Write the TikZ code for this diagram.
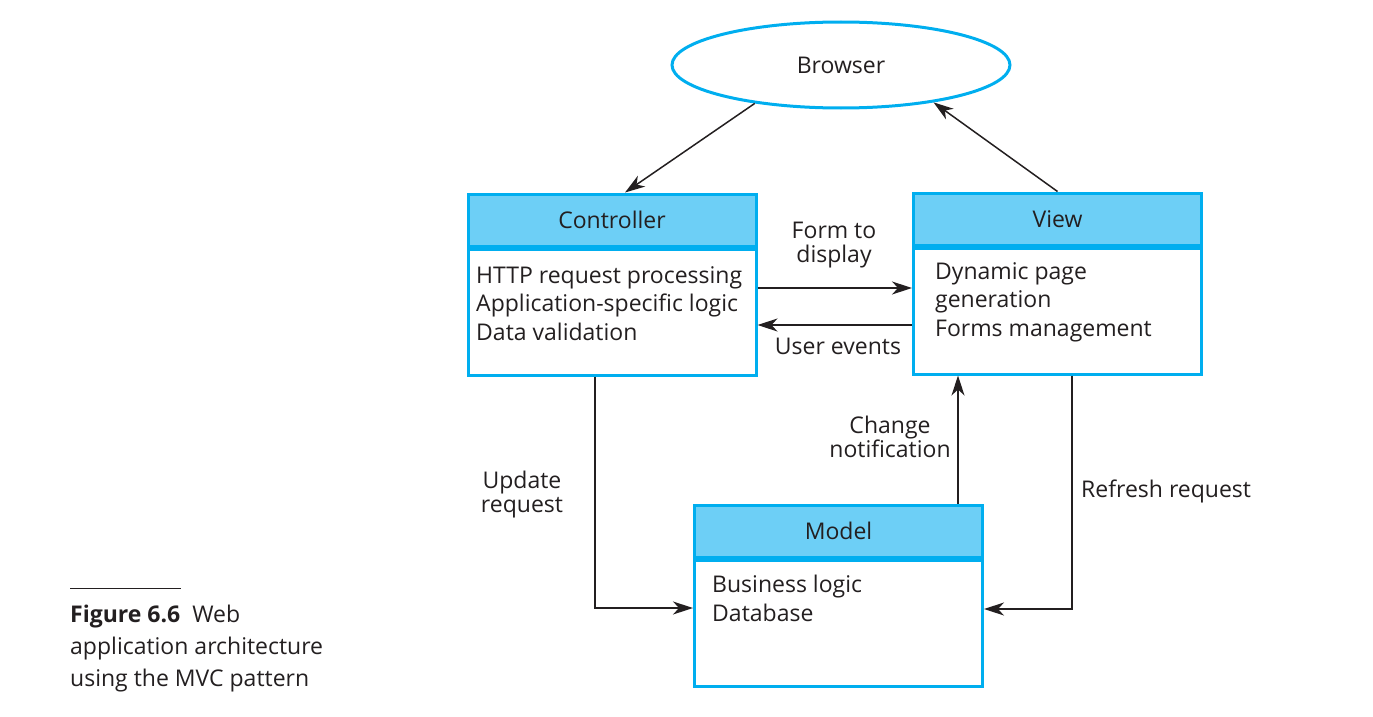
\documentclass[tikz,border=0pt]{standalone}
\usepackage{fontspec}
\setmainfont{Open Sans}
\usepackage{xcolor}
\usepackage{tikz}
\usetikzlibrary{arrows.meta,positioning,shapes.geometric}
\definecolor{mvcblue}{HTML}{00AEEF}
\definecolor{mvchead}{HTML}{6DCFF6}
\definecolor{ink}{HTML}{231F20}

\begin{document}
\begin{tikzpicture}[x=1pt,y=-1pt,
    headbox/.style={draw=mvcblue,fill=mvchead,line width=3pt,minimum width=288pt,minimum height=52pt,
      inner sep=0pt,text=ink,font=\fontsize{23}{28}\selectfont},
    bodybox/.style={draw=mvcblue,fill=white,line width=3pt,minimum width=288pt,minimum height=126pt,
      inner sep=0pt,anchor=north},
    boxtext/.style={anchor=north west,inner sep=0pt,align=left,text=ink,font=\fontsize{23}{28.5}\selectfont},
    lbl/.style={inner sep=0pt,align=center,text=ink,font=\fontsize{23}{24}\selectfont},
    arr/.style={-{Stealth[length=20pt,width=13pt,inset=6pt]},line width=1.5pt,draw=ink}]
  \useasboundingbox (0,0) rectangle (1373,717);

  % browser
  \node[ellipse,draw=mvcblue,line width=3pt,minimum width=338pt,minimum height=86pt,
    text=ink,font=\fontsize{23}{28}\selectfont] (browser) at (841,65) {Browser};

  % controller, view, model
  \node[headbox] (ctrlhead) at (612,220) {Controller};
  \node[bodybox] (ctrl) at (ctrlhead.south) {};
  \node[boxtext] (ctrltext) at (476,266) {HTTP request processing\\Application-specific logic\\Data validation};

  \node[headbox] (viewhead) at (1057.5,219) {View};
  \node[bodybox] (view) at (viewhead.south) {};
  \node[boxtext] (viewtext) at (935,262) {Dynamic page\\generation\\Forms management};

  \node[headbox] (modelhead) at (838.5,531) {Model};
  \node[bodybox] (model) at (modelhead.south) {};
  \node[boxtext] (modeltext) at (712,575) {Business logic\\Database};

  % connectors
  \draw[arr] (browser.204) -- ([xshift=13pt]ctrlhead.north);
  \draw[arr] (viewhead.north) -- (browser.-22);
  \draw[arr] ([yshift=24pt]ctrl.east) -- ([yshift=24pt]ctrl.east -| view.west);
  \draw[arr] ([yshift=-14pt]view.west) -- ([yshift=-14pt]view.west -| ctrl.east);
  \draw[arr] ([xshift=-17pt]ctrl.south) |- ([yshift=15pt]model.west);
  \draw[arr] ([xshift=119.5pt]modelhead.north) -- ([xshift=119.5pt]modelhead.north |- view.south);
  \draw[arr] ([xshift=14.5pt]view.south) |- ([yshift=14pt]model.east);

  \node[lbl] (formlbl) at (834,245) {Form to\\display};
  \node[lbl] (eventslbl) at (838,346) {User events};
  \node[lbl] (updatelbl) at (522,495) {Update\\request};
  \node[lbl] (changelbl) at (890,437) {Change\\notification};
  \node[lbl,anchor=west] (refreshlbl) at (1081,491) {Refresh request};

  % caption
  \draw[line width=1pt,draw=ink] (70,588) -- (181,588);
  \node[anchor=north west,inner sep=0pt,align=left,text=ink,font=\fontsize{23}{32}\selectfont] (caption)
    at (70,605) {\textbf{Figure 6.6}\ \ Web\\application architecture\\using the MVC pattern};
\end{tikzpicture}
\end{document}
